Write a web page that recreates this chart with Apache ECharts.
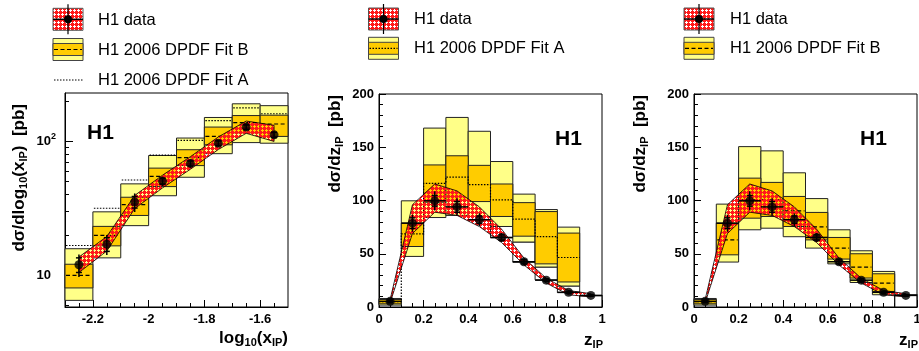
<!DOCTYPE html>
<html><head><meta charset="utf-8">
<script src="https://cdn.jsdelivr.net/npm/echarts@6/dist/echarts.min.js"></script>
<style>html,body{margin:0;padding:0;background:#fff}#c{width:919px;height:351px}</style>
</head><body><div id="c"></div>
<script>
// ---------- Panel 1: d sigma / d log10(x_IP) ----------
const xipEdges   = [-2.3,-2.2,-2.1,-2.0,-1.9,-1.8,-1.7,-1.6,-1.5];
const xipCenters = [-2.25,-2.15,-2.05,-1.95,-1.85,-1.75,-1.65,-1.55];
const xipData    = [12.0,17.1,35.3,50.5,68.5,97,128,112];
const xipErrTot  = [2.3,2.9,5.6,4,5,6,8,7];
const xipErrStat = [1.5,2.0,3.5,2.5,3,4,5,5];
const xipBandHi  = [13.7,19.5,39.5,56,77,108,142,132];
const xipBandLo  = [10.5,15.2,31.5,45,62,87,115,100];
const xipFitBYelHi = [15.8,29.8,48.2,78.5,106,151,191,185];
const xipFitBYelLo = [6.5,13.5,23.5,39.3,54,81,98,97];
const xipFitBOrHi  = [12.1,23.2,38.3,63.2,86.7,128,156,157];
const xipFitBOrLo  = [8.05,16.6,28,46,66,94.4,116,109];
const xipFitB      = [10.0,19.9,33.7,54.8,75.6,109,138,135];
const xipFitA      = [16.7,31.7,51.5,79,102,143,178,161];
const xipMajorTicks = [-2.2,-2.0,-1.8,-1.6];
const xipMinorTicks = [-2.25,-2.15,-2.1,-2.05,-1.95,-1.9,-1.85,-1.75,-1.7,-1.65,-1.55];
const logMinorTicks = [6,7,8,9,20,30,40,50,60,70,80,90,200];

// ---------- Panels 2,3: d sigma / d z_IP ----------
const zEdges   = [0,0.1,0.2,0.3,0.4,0.5,0.6,0.7,0.8,0.9,1.0];
const zCenters = [0.05,0.15,0.25,0.35,0.45,0.55,0.65,0.75,0.85,0.95];
const zData    = [5.3,78.7,99.7,94,82,65.3,42.5,25.2,13.8,10.9];
const zErrTot  = [1.5,8,9,8,6,4,3,2,1.5,1.2];
const zErrStat = [1,5,5,5,3.5,2.5,2,1.3,1,0.8];
const zBandHi  = [7,96,115.5,109,94,73,46,27,15.5,12.5];
const zBandLo  = [4,69,89,86,75.5,60.5,39.5,22.5,11.5,9.5];
// Fit A (bins 0 - 0.9)
const fitAYelHi = [8,99.7,168,178,165,136.6,106,91.5,75];
const fitAYelLo = [1.8,47.5,84,86,85,75.6,61,37.5,19.7];
const fitAOrHi  = [7,78.8,133.4,142,133,115.5,98,89.6,69.4];
const fitAOrLo  = [3,56.8,98.4,100,99,85,66.5,40.5,23.5];
const fitA      = [5,68.7,116,122,115,100.5,82.5,66,46.5];
// Fit A: outlined white boxes below the yellow band (bins 0.5 - 0.9)
const fitAWhiteEdges = [0.5,0.6,0.7,0.8,0.9];
const fitAWhiteLo    = [65,42,25.5,13.5];
const fitAWhiteHi    = [75.6,61,37.5,19.7];
// Fit B (bins 0 - 0.9)
const fitBYelHi = [8,96.6,150.6,146.6,126,101.8,72.5,52.8,33.4];
const fitBYelLo = [1.8,42.2,72.5,74,66,55.3,40.5,23,11.5];
const fitBOrHi  = [7,78.7,121,117,103.8,88.8,65.3,50,31.2];
const fitBOrLo  = [3,49,83.4,85,75.6,63,45,27.2,14.6];
const fitB      = [5,63,100.6,100.6,90.3,75.3,55.3,37.5,22.5];
// last-bin outline box [xlo, xhi, lo, hi]
const lastBoxA = [0.9,1.0,0,10.6];
const lastBoxB = [0.9,1.0,0,11.5];

const F = "'Liberation Sans', Arial, Helvetica, sans-serif";
const YEL = '#ffff88', ORA = '#ffcc00';

const hatchCanvas = (function(){
  const c=document.createElement('canvas'); c.width=4; c.height=4;
  const g=c.getContext('2d'); g.fillStyle='#ff1a1a'; g.fillRect(0,0,4,4);
  g.clearRect(2,1,1,3); g.clearRect(1,2,3,1); return c;
})();
const hatchFill = {image: hatchCanvas, repeat:'repeat'};

const axIdx = [0,2,3];

function boxSeries(gi, edges, lo, hi, fill, z){
  return {type:'custom', xAxisIndex:axIdx[gi], yAxisIndex:axIdx[gi], z, silent:true, animation:false,
    data: lo.map((v,i)=>[edges[i], edges[i+1], v, hi[i]]), encode:{x:[0,1], y:[2,3]},
    renderItem(params, api){
      const p1=api.coord([api.value(0), api.value(3)]);
      const p2=api.coord([api.value(1), api.value(2)]);
      return {type:'rect', shape:{x:p1[0], y:p1[1], width:p2[0]-p1[0], height:p2[1]-p1[1]},
        style:{fill, stroke:'#222', lineWidth:1}};
    }};
}
function hSegSeries(gi, edges, vals, dash, z){
  return {type:'custom', xAxisIndex:axIdx[gi], yAxisIndex:axIdx[gi], z, silent:true, animation:false,
    data: vals.map((v,i)=>[edges[i], edges[i+1], v]), encode:{x:[0,1], y:2},
    renderItem(params, api){
      const a=api.coord([api.value(0), api.value(2)]), b=api.coord([api.value(1), api.value(2)]);
      return {type:'line', shape:{x1:a[0]+1, y1:a[1], x2:b[0]-1, y2:b[1]},
        style:{stroke:'#000', lineWidth:1.2, lineDash:dash}};
    }};
}
function stepSeries(gi, edges, vals, dash, z){
  return {type:'custom', xAxisIndex:axIdx[gi], yAxisIndex:axIdx[gi], z, silent:true, animation:false,
    data: [[edges[0], vals[0]]], encode:{x:0, y:1},
    renderItem(params, api){
      const pts=[];
      vals.forEach((v,i)=>{ pts.push(api.coord([edges[i], v])); pts.push(api.coord([edges[i+1], v])); });
      return {type:'polyline', shape:{points:pts}, style:{stroke:'#000', fill:null, lineWidth:1.2, lineDash:dash}};
    }};
}
function bandSeries(gi, xs, lo, hi){
  return {type:'custom', xAxisIndex:axIdx[gi], yAxisIndex:axIdx[gi], z:4, silent:true, animation:false,
    data: [[xs[0], hi[0]]], encode:{x:0, y:1},
    renderItem(params, api){
      const pts=[];
      xs.forEach((x,i)=>pts.push(api.coord([x, hi[i]])));
      for(let i=xs.length-1;i>=0;i--) pts.push(api.coord([xs[i], lo[i]]));
      return {type:'polygon', shape:{points:pts}, style:{fill:hatchFill, stroke:'#000', lineWidth:0.8}};
    }};
}
function errSeries(gi, xs, v, et, es, hw){
  return {type:'custom', xAxisIndex:axIdx[gi], yAxisIndex:axIdx[gi], z:5, silent:true, animation:false,
    data: xs.map((x,i)=>[x, v[i], et[i], es[i]]), encode:{x:0, y:1},
    renderItem(params, api){
      const x=api.value(0), y=api.value(1), e=api.value(2), s=api.value(3);
      const pT=api.coord([x,y+e]), pB=api.coord([x,y-e]);
      const sT=api.coord([x,y+s]), sB=api.coord([x,y-s]);
      const st={stroke:'#000', lineWidth:1.5};
      const ch=[{type:'line', shape:{x1:pT[0],y1:pT[1],x2:pB[0],y2:pB[1]}, style:st},
        {type:'line', shape:{x1:sT[0]-3,y1:sT[1],x2:sT[0]+3,y2:sT[1]}, style:st},
        {type:'line', shape:{x1:sB[0]-3,y1:sB[1],x2:sB[0]+3,y2:sB[1]}, style:st}];
      if(hw){ const l=api.coord([x-hw,y]), r=api.coord([x+hw,y]);
        ch.push({type:'line', shape:{x1:l[0],y1:l[1],x2:r[0],y2:r[1]}, style:st}); }
      return {type:'group', children:ch};
    }};
}
function pointSeries(gi, xs, v){
  return {type:'scatter', xAxisIndex:axIdx[gi], yAxisIndex:axIdx[gi], z:6, silent:true, animation:false,
    symbol:'circle', symbolSize:9, itemStyle:{color:'#000'}, data: xs.map((x,i)=>[x, v[i]])};
}
function outlineBox(gi, b){
  return {type:'custom', xAxisIndex:axIdx[gi], yAxisIndex:axIdx[gi], z:1, silent:true, animation:false,
    data:[b], encode:{x:[0,1], y:[2,3]},
    renderItem(params, api){
      const p1=api.coord([api.value(0), api.value(3)]), p2=api.coord([api.value(1), api.value(2)]);
      return {type:'rect', shape:{x:p1[0], y:p1[1], width:p2[0]-p1[0], height:p2[1]-p1[1]},
        style:{fill:'#fff', stroke:'#000', lineWidth:1.2}};
    }};
}

const tickLab = {color:'#000', fontFamily:F, fontWeight:'bold', fontSize:13};
const blk = {color:'#000', width:1};
const grids = [
  {left:65, top:93, width:223, height:214},
  {left:379, top:94, width:223, height:213},
  {left:694, top:94, width:223, height:213}
].map(g=>Object.assign(g, {show:true, borderColor:'#000', borderWidth:1, backgroundColor:'transparent', outerBoundsMode:'none', containLabel:false}));

function zX(gi){
  return {type:'value', gridIndex:gi, position:'bottom', min:0, max:1, interval:0.2,
    axisLine:{show:true, onZero:false, lineStyle:blk},
    axisTick:{show:true, inside:true, length:7, lineStyle:blk},
    minorTick:{show:true, splitNumber:4, length:4, lineStyle:blk},
    axisLabel:Object.assign({margin:6}, tickLab), splitLine:{show:false}, minorSplitLine:{show:false}};
}
function zY(gi){
  return {type:'value', gridIndex:gi, position:'left', min:0, max:200, interval:50,
    axisLine:{show:true, onZero:false, lineStyle:blk},
    axisTick:{show:true, inside:true, length:7, lineStyle:blk},
    minorTick:{show:true, splitNumber:5, length:4, lineStyle:blk},
    axisLabel:Object.assign({margin:5}, tickLab), splitLine:{show:false}, minorSplitLine:{show:false}};
}

function logLabel(v){
  if (Math.abs(v-100) < 1e-6) return '{b|10}{p|2}';
  if (Math.abs(v-10) < 1e-6) return '{b|10}{s| }';
  return '';
}

const xAxes = [
  {type:'value', gridIndex:0, position:'bottom', min:-2.3, max:-1.5,
    axisLine:{show:true, onZero:false, lineStyle:blk},
    axisTick:{show:true, inside:true, length:7, lineStyle:blk, customValues:xipMajorTicks},
    axisLabel:Object.assign({margin:6, customValues:xipMajorTicks, formatter:v=>String(+(+v).toFixed(1))}, tickLab),
    splitLine:{show:false}},
  {type:'value', gridIndex:0, position:'bottom', min:-2.3, max:-1.5,
    axisLine:{show:false}, axisTick:{show:true, inside:true, length:4, lineStyle:blk, customValues:xipMinorTicks},
    axisLabel:{show:false}, splitLine:{show:false}},
  zX(1), zX(2)
];
const yAxes = [
  {type:'log', logBase:10, gridIndex:0, position:'left', min:5.8, max:230,
    axisLine:{show:true, onZero:false, lineStyle:blk},
    axisTick:{show:true, inside:true, length:8, lineStyle:blk},
    axisLabel:{margin:9, color:'#000', fontFamily:F, fontWeight:'bold', fontSize:13,
      showMinLabel:false, showMaxLabel:false, formatter:logLabel,
      rich:{b:{fontFamily:F, fontWeight:'bold', fontSize:13, color:'#000'},
            p:{fontFamily:F, fontWeight:'bold', fontSize:9, color:'#000', padding:[0,0,9,0]},
            s:{fontSize:9, width:5}}},
    splitLine:{show:false}},
  {type:'log', logBase:10, gridIndex:0, position:'left', min:5.8, max:230,
    axisLine:{show:false}, axisTick:{show:true, inside:true, length:4, lineStyle:blk, customValues:logMinorTicks},
    axisLabel:{show:false}, splitLine:{show:false}},
  zY(1), zY(2)
];

const series = [
  // panel 1
  boxSeries(0, xipEdges, xipFitBYelLo, xipFitBYelHi, YEL, 1),
  boxSeries(0, xipEdges, xipFitBOrLo, xipFitBOrHi, ORA, 2),
  hSegSeries(0, xipEdges, xipFitB, [4,2.5], 3),
  hSegSeries(0, xipEdges, xipFitA, [1.5,1.5], 3),
  bandSeries(0, xipCenters, xipBandLo, xipBandHi),
  errSeries(0, xipCenters, xipData, xipErrTot, xipErrStat, 0),
  pointSeries(0, xipCenters, xipData),
  // panel 2
  outlineBox(1, lastBoxA),
  boxSeries(1, fitAWhiteEdges, fitAWhiteLo, fitAWhiteHi, '#fff', 1),
  boxSeries(1, zEdges, fitAYelLo, fitAYelHi, YEL, 1),
  boxSeries(1, zEdges, fitAOrLo, fitAOrHi, ORA, 2),
  stepSeries(1, zEdges, fitA, [1.5,1.5], 3),
  bandSeries(1, zCenters, zBandLo, zBandHi),
  errSeries(1, zCenters, zData, zErrTot, zErrStat, 0.05),
  pointSeries(1, zCenters, zData),
  // panel 3
  outlineBox(2, lastBoxB),
  boxSeries(2, zEdges, fitBYelLo, fitBYelHi, YEL, 1),
  boxSeries(2, zEdges, fitBOrLo, fitBOrHi, ORA, 2),
  hSegSeries(2, zEdges, fitB, [4,2.5], 3),
  bandSeries(2, zCenters, zBandLo, zBandHi),
  errSeries(2, zCenters, zData, zErrTot, zErrStat, 0.05),
  pointSeries(2, zCenters, zData)
];

// ---------- graphic: legends, titles, labels ----------
function legData(x0, yc){
  return [
    {type:'rect', shape:{x:x0, y:yc-11, width:30, height:22}, style:{fill:hatchFill, stroke:'#555', lineWidth:1}},
    {type:'line', shape:{x1:x0, y1:yc, x2:x0+30, y2:yc}, style:{stroke:'#000', lineWidth:1.5}},
    {type:'line', shape:{x1:x0+15, y1:yc-15, x2:x0+15, y2:yc+15}, style:{stroke:'#000', lineWidth:1.2}},
    {type:'circle', shape:{cx:x0+15, cy:yc, r:4}, style:{fill:'#000'}}
  ];
}
function legFit(x0, yc, dash){
  return [
    {type:'rect', shape:{x:x0, y:yc-11, width:30, height:22}, style:{fill:YEL, stroke:'#444', lineWidth:1}},
    {type:'rect', shape:{x:x0, y:yc-6, width:30, height:12}, style:{fill:ORA, stroke:'#444', lineWidth:1}},
    {type:'line', shape:{x1:x0+1, y1:yc, x2:x0+29, y2:yc}, style:{stroke:'#000', lineWidth:1.2, lineDash:dash}}
  ];
}
function txt(x, y, s, opts){
  return {type:'text', x, y, style:Object.assign({text:s, fill:'#000', fontFamily:F, fontSize:16.5, verticalAlign:'middle', align:'left'}, opts||{})};
}
const R = {
  m:{fontFamily:F, fontWeight:'bold', fontSize:17, fill:'#000'},
  s:{fontFamily:F, fontWeight:'bold', fontSize:11, fill:'#000', padding:[10,0,0,0], verticalAlign:'bottom'}
};
function richTxt(x, y, s, align, rot){
  return {type:'text', x, y, rotation:rot||0, style:{text:s, rich:R, fill:'#000', align, verticalAlign:'middle', fontFamily:F, fontWeight:'bold', fontSize:17}};
}
const H1 = (x,y)=>({type:'text', x, y, style:{text:'H1', fill:'#000', fontFamily:F, fontWeight:'bold', fontSize:21, verticalAlign:'middle', align:'left'}});

const graphics = [].concat(
  legData(53, 19.3), txt(98, 20, 'H1 data'),
  legFit(53, 49.5, [4,2.5]), txt(98, 50, 'H1 2006 DPDF Fit B'),
  [{type:'line', shape:{x1:54, y1:80, x2:83, y2:80}, style:{stroke:'#000', lineWidth:1, lineDash:[1.5,1.5]}}],
  txt(98, 80, 'H1 2006 DPDF Fit A'),
  legData(368.5, 19), txt(414, 19, 'H1 data'),
  legFit(368.5, 48.3, [1.5,1.5]), txt(414, 48, 'H1 2006 DPDF Fit A'),
  legData(684, 19), txt(730, 19, 'H1 data'),
  legFit(684, 48.3, [4,2.5]), txt(730, 48, 'H1 2006 DPDF Fit B'),
  [H1(87, 133), H1(555, 139), H1(860, 139)],
  [richTxt(19, 104, '{m|dσ/dlog}{s|10}{m|(x}{s|IP}{m|)  [pb]}', 'right', Math.PI/2),
   richTxt(335, 95, '{m|dσ/dz}{s|IP}{m|  [pb]}', 'right', Math.PI/2),
   richTxt(640, 95, '{m|dσ/dz}{s|IP}{m|  [pb]}', 'right', Math.PI/2),
   richTxt(288, 338, '{m|log}{s|10}{m|(x}{s|IP}{m|)}', 'right', 0),
   richTxt(603, 340, '{m|z}{s|IP}', 'right', 0),
   richTxt(918, 340, '{m|z}{s|IP}', 'right', 0)]
);

const chart = echarts.init(document.getElementById('c'), null, {renderer:'canvas'});
chart.setOption({
  animation:false,
  backgroundColor:'#fff',
  textStyle:{fontFamily:F},
  grid: grids,
  xAxis: xAxes,
  yAxis: yAxes,
  series,
  graphic:{elements: graphics}
});
</script></body></html>
